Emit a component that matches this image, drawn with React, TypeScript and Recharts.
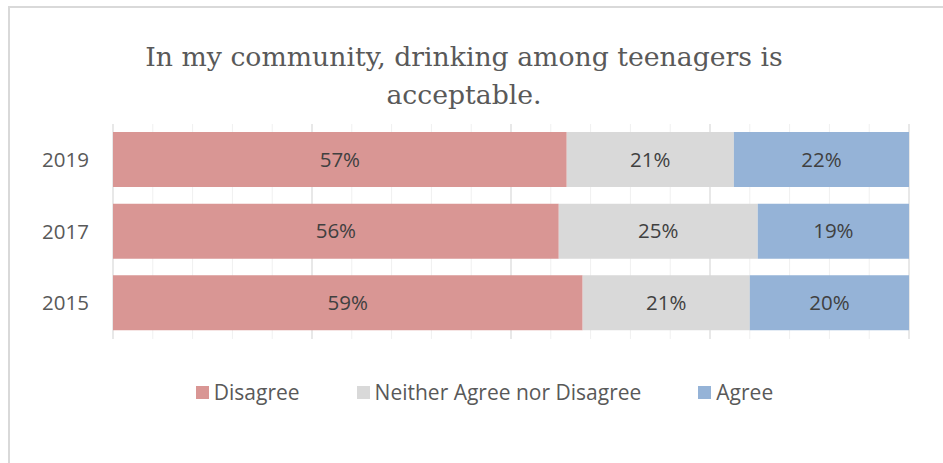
import { BarChart, Bar, XAxis, YAxis, CartesianGrid, LabelList } from "recharts";

const years = ["2019", "2017", "2015"];
const disagree = [57, 56, 59];
const neither = [21, 25, 21];
const agree = [22, 19, 20];

const seriesNames = ["Disagree", "Neither Agree nor Disagree", "Agree"];
const seriesColors = ["#d99694", "#d9d9d9", "#95b3d7"];

const minorTicks = [0, 5, 10, 15, 20, 25, 30, 35, 40, 45, 50, 55, 60, 65, 70, 75, 80, 85, 90, 95, 100];
const majorTicks = [0, 25, 50, 75, 100];

const data = years.map((year, i) => ({
  year,
  disagree: disagree[i],
  neither: neither[i],
  agree: agree[i],
}));

const FONT = "'Open Sans', sans-serif";

// grid lines placed through the x axis scale
const gridAt = (values: number[]) => (props: any) => {
  const { xAxis, offset } = props;
  return values.map((v) =>
    xAxis && typeof xAxis.scale === "function"
      ? xAxis.scale(v)
      : offset.left + (offset.width * v) / 100
  );
};

export default function App() {
  return (
    <div style={{ position: "absolute", left: 0, top: 0, width: 943, height: 463, overflow: "hidden", background: "#fff" }}>
      <div
        style={{
          position: "absolute",
          left: 8,
          top: 6,
          width: 980,
          height: 500,
          border: "2px solid #d9d9d9",
        }}
      />
      <div
        style={{
          position: "absolute",
          left: 0,
          top: 38,
          width: 928,
          textAlign: "center",
          fontFamily: "'DejaVu Serif', serif",
          fontSize: 26.7,
          lineHeight: "38px",
          color: "#595959",
        }}
      >
        In my community, drinking among teenagers is
        <br />
        acceptable.
      </div>
      <div style={{ position: "absolute", left: 0, top: 0 }}>
        <BarChart
          width={943}
          height={463}
          data={data}
          layout="vertical"
          margin={{ top: 124, right: 34, left: 0, bottom: 124 }}
        >
          <CartesianGrid
            horizontal={false}
            stroke="#f0f0f0"
            verticalCoordinatesGenerator={gridAt(minorTicks)}
          />
          <CartesianGrid
            horizontal={false}
            stroke="#d9d9d9"
            verticalCoordinatesGenerator={gridAt(majorTicks)}
          />
          <XAxis type="number" domain={[0, 100]} ticks={minorTicks} hide />
          <YAxis
            type="category"
            dataKey="year"
            width={113}
            axisLine={false}
            tickLine={false}
            tickSize={0}
            tickMargin={24}
            tick={{ fill: "#595959", fontSize: 20.5, fontFamily: FONT }}
          />
          <Bar dataKey="disagree" name={seriesNames[0]} stackId="a" fill={seriesColors[0]} barSize={55} isAnimationActive={false}>
            <LabelList dataKey="disagree" position="center" formatter={(v: any) => `${v}%`} fill="#404040" fontSize={20.5} fontFamily={FONT} />
          </Bar>
          <Bar dataKey="neither" name={seriesNames[1]} stackId="a" fill={seriesColors[1]} barSize={55} isAnimationActive={false}>
            <LabelList dataKey="neither" position="center" formatter={(v: any) => `${v}%`} fill="#404040" fontSize={20.5} fontFamily={FONT} />
          </Bar>
          <Bar dataKey="agree" name={seriesNames[2]} stackId="a" fill={seriesColors[2]} barSize={55} isAnimationActive={false}>
            <LabelList dataKey="agree" position="center" formatter={(v: any) => `${v}%`} fill="#404040" fontSize={20.5} fontFamily={FONT} />
          </Bar>
        </BarChart>
      </div>
      <div
        style={{
          position: "absolute",
          top: 378,
          left: 13,
          width: 943,
          display: "flex",
          justifyContent: "center",
          gap: 57,
          fontFamily: FONT,
          fontSize: 21,
          color: "#595959",
        }}
      >
        {seriesNames.map((name, i) => (
          <div key={name} style={{ display: "flex", alignItems: "center" }}>
            <span style={{ width: 13, height: 13, background: seriesColors[i], display: "inline-block", marginRight: 5 }} />
            <span>{name}</span>
          </div>
        ))}
      </div>
    </div>
  );
}
